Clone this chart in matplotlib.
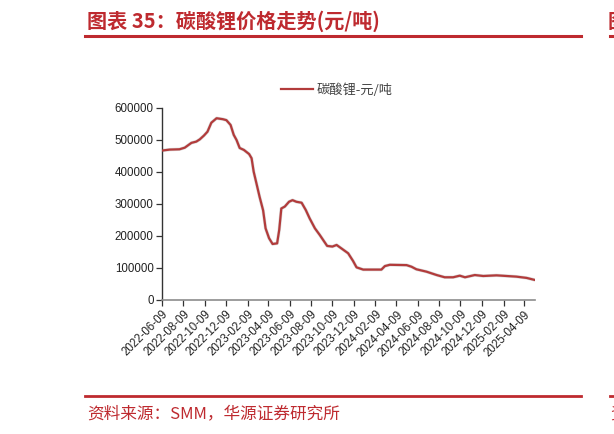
import matplotlib
matplotlib.use("Agg")
import matplotlib.pyplot as plt
import pandas as pd

# ---- data ----
dates = [
    "2022-06-09", "2022-07-01", "2022-07-29", "2022-08-13", "2022-09-01", "2022-09-15",
    "2022-09-25", "2022-10-07", "2022-10-17", "2022-10-28", "2022-11-12", "2022-11-30",
    "2022-12-10", "2022-12-22", "2022-12-31", "2023-01-08", "2023-01-17", "2023-01-29",
    "2023-02-13", "2023-02-20", "2023-02-26", "2023-03-06", "2023-03-15", "2023-03-25",
    "2023-04-01", "2023-04-11", "2023-04-21", "2023-05-04", "2023-05-10", "2023-05-16",
    "2023-05-26", "2023-06-07", "2023-06-17", "2023-06-28", "2023-07-13", "2023-07-25",
    "2023-08-05", "2023-08-20", "2023-09-03", "2023-09-24", "2023-10-09", "2023-10-21",
    "2023-11-04", "2023-11-23", "2023-12-07", "2023-12-17", "2024-01-05", "2024-02-26",
    "2024-03-07", "2024-03-21", "2024-05-08", "2024-05-22", "2024-06-05", "2024-07-04",
    "2024-08-02", "2024-08-25", "2024-09-18", "2024-10-07", "2024-10-22", "2024-11-19",
    "2024-12-13", "2025-01-20", "2025-02-18", "2025-03-18", "2025-04-16", "2025-05-08",
]
prices = [
    467000, 470000, 471000, 476000, 491000, 495000,
    502000, 514000, 526000, 554000, 568000, 565000,
    562000, 547000, 516000, 500000, 475000, 469000,
    456000, 443000, 401000, 364000, 322000, 280000,
    224000, 193000, 175000, 177000, 219000, 286000,
    292000, 307000, 312000, 307000, 304000, 281000,
    255000, 224000, 203000, 169000, 167000, 172000,
    161000, 146000, 122000, 102000, 95000, 95000,
    106000, 110000, 109000, 104000, 96000, 88500,
    78000, 71000, 71000, 76000, 71000, 78000,
    75000, 77000, 75000, 73000, 69000, 63000,
]
series_name = "碳酸锂-元/吨"
tick_dates = ["2022-06-09", "2022-08-09", "2022-10-09", "2022-12-09", "2023-02-09",
              "2023-04-09", "2023-06-09", "2023-08-09", "2023-10-09", "2023-12-09",
              "2024-02-09", "2024-04-09", "2024-06-09", "2024-08-09", "2024-10-09",
              "2024-12-09", "2025-02-09", "2025-04-09"]
y_ticks = [0, 100000, 200000, 300000, 400000, 500000, 600000]

title_text = "图表 35：碳酸锂价格走势(元/吨)"
source_text = "资料来源：SMM，华源证券研究所"

RED = "#BE2A2F"
LINE = "#B23B3B"
CJK = ["Noto Sans CJK SC", "DejaVu Sans"]

W, H = 614, 434
fig = plt.figure(figsize=(W / 100, H / 100), dpi=100)
fig.patch.set_facecolor("white")

def fx(px):
    return px / W

def fy(py):
    return 1 - py / H

ax = fig.add_axes([fx(162), fy(300), fx(535) - fx(162), fy(108) - fy(300)])

x = pd.to_datetime(dates)
ax.plot(x, prices, color="#999999", lw=2.4, alpha=0.35, zorder=2, solid_capstyle="round")
ax.plot(x, prices, color=LINE, lw=1.6, zorder=3, label=series_name, solid_joinstyle="round")

ax.set_ylim(0, 600000)
ax.set_xlim(pd.Timestamp("2022-06-09"), pd.Timestamp("2025-05-10"))
ax.set_yticks(y_ticks)
ax.set_yticklabels([str(v) for v in y_ticks])
td = pd.to_datetime(tick_dates)
ax.set_xticks(td)
ax.set_xticklabels(tick_dates, rotation=45, ha="right", rotation_mode="anchor")

for s in ["top", "right"]:
    ax.spines[s].set_visible(False)
ax.spines["left"].set_color("#333333")
ax.spines["bottom"].set_color("#8c8c8c")
ax.spines["left"].set_linewidth(1.0)
ax.spines["bottom"].set_linewidth(1.2)
ax.tick_params(axis="both", direction="out", length=4, width=0.9, color="#333333",
               labelsize=8.3, labelcolor="#222222", pad=2)
for lab in ax.get_xticklabels() + ax.get_yticklabels():
    lab.set_fontfamily(["Liberation Sans", "DejaVu Sans"])

# legend
leg = ax.legend(loc="upper left", bbox_to_anchor=(fx(276), fy(78)), bbox_transform=fig.transFigure,
                frameon=False, handlelength=2.4, handletextpad=0.3, borderaxespad=0,
                prop={"family": CJK, "size": 9.5})
for t in leg.get_texts():
    t.set_color("#444444")

# title and header line
fig.text(fx(87), fy(21), title_text, color=RED, fontsize=14.5, fontweight="bold",
         family=CJK, ha="left", va="center")
fig.add_artist(plt.Line2D([fx(85), fx(581)], [fy(35.7), fy(35.7)], color=RED, lw=2.2))
fig.add_artist(plt.Line2D([fx(610), fx(614)], [fy(35.7), fy(35.7)], color=RED, lw=2.2))
fig.text(fx(608), fy(21), "图", color=RED, fontsize=14.5, fontweight="bold",
         family=CJK, ha="left", va="center")

# footer
fig.add_artist(plt.Line2D([fx(85), fx(581)], [fy(395.7), fy(395.7)], color=RED, lw=2.0))
fig.add_artist(plt.Line2D([fx(610), fx(614)], [fy(395.7), fy(395.7)], color=RED, lw=2.0))
fig.text(fx(87), fy(414), source_text, color=RED, fontsize=12, family=CJK,
         ha="left", va="center")
fig.text(fx(610), fy(414), "资", color=RED, fontsize=12, family=CJK, ha="left", va="center")

fig.savefig("out.png", dpi=100, facecolor="white")
